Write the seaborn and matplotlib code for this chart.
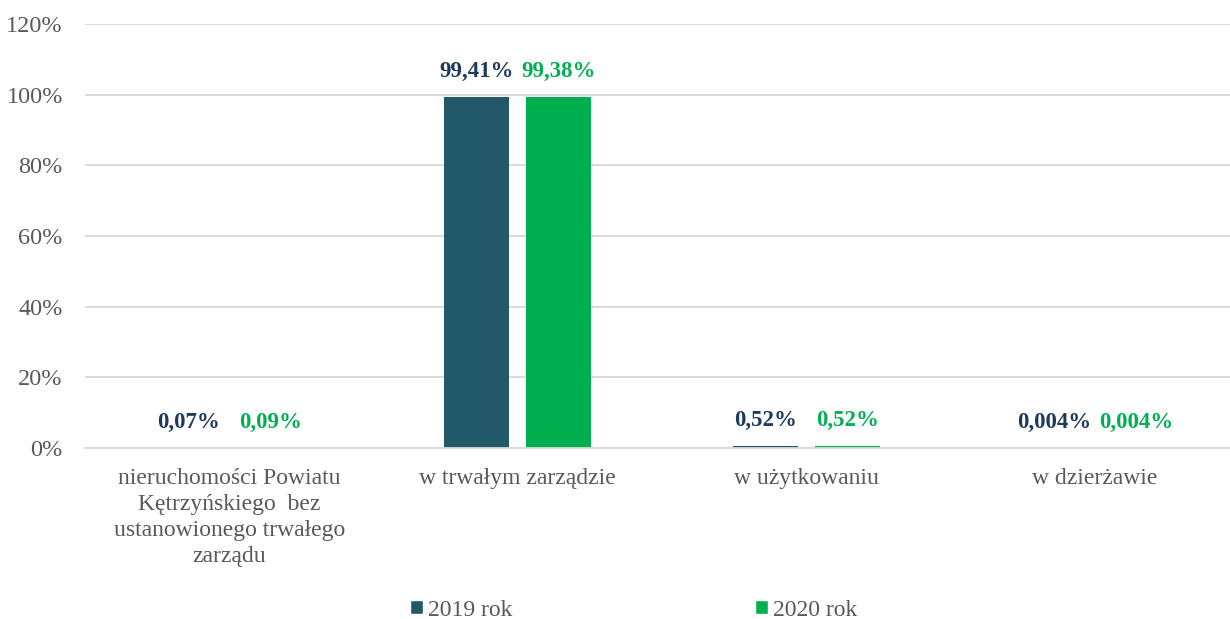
import matplotlib
matplotlib.use("Agg")
import matplotlib.pyplot as plt
import seaborn as sns
import pandas as pd
from matplotlib.patches import Patch

categories = [
    "nieruchomości Powiatu\nKętrzyńskiego  bez\nustanowionego trwałego\nzarządu",
    "w trwałym zarządzie",
    "w użytkowaniu",
    "w dzierżawie",
]
years = ["2019 rok", "2020 rok"]
values_2019 = [0.07, 99.41, 0.52, 0.004]
values_2020 = [0.09, 99.38, 0.52, 0.004]
labels_2019 = ["0,07%", "99,41%", "0,52%", "0,004%"]
labels_2020 = ["0,09%", "99,38%", "0,52%", "0,004%"]

bar_colors = ["#215968", "#00B050"]
text_colors = ["#1F3B5C", "#00B050"]

df = pd.DataFrame({
    "kategoria": categories * 2,
    "rok": [years[0]] * 4 + [years[1]] * 4,
    "wartosc": values_2019 + values_2020,
})

sns.set_theme(style="white")
plt.rcParams["font.family"] = ["Liberation Serif", "DejaVu Serif"]

fig = plt.figure(figsize=(12.3, 6.19), dpi=100)
# axes run a bit past the right edge, like in the original
ax = fig.add_axes([85 / 1230, 0.276, 1154 / 1230, 0.685])

sns.barplot(data=df, x="kategoria", y="wartosc", hue="rok", order=categories,
            hue_order=years, palette=bar_colors, width=0.568, gap=0.208,
            saturation=1, legend=False, linewidth=0, ax=ax)

for container, labs, col in zip(ax.containers, [labels_2019, labels_2020], text_colors):
    ax.bar_label(container, labels=labs, padding=11, color=col,
                 fontsize=16.5, fontweight="bold")

ax.set_ylim(0, 120)
ax.set_yticks(range(0, 121, 20))
ax.set_yticklabels([f"{v}%" for v in range(0, 121, 20)], fontsize=17.5, color="#595959")
ax.tick_params(axis="x", labelsize=17, labelcolor="#595959", length=0, pad=14)
for t in ax.get_xticklabels():
    t.set_linespacing(1.33)
ax.tick_params(axis="y", length=0, pad=16)
ax.set_xlabel("")
ax.set_ylabel("")
ax.grid(axis="y", color="#D9D9D9", linewidth=1.3)
ax.set_axisbelow(True)
for s in ["top", "right", "left"]:
    ax.spines[s].set_visible(False)
ax.spines["bottom"].set_color("#D9D9D9")
ax.spines["bottom"].set_linewidth(1.3)

handles = [Patch(facecolor=c, label=y) for c, y in zip(bar_colors, years)]
leg = fig.legend(handles=handles, loc="center", bbox_to_anchor=(0.515, 0.0145),
                 ncol=2, frameon=False, fontsize=17, handlelength=0.55,
                 handleheight=0.55, handletextpad=0.2, columnspacing=10.3)
for t in leg.get_texts():
    t.set_color("#595959")

fig.savefig("out.png", dpi=100)
